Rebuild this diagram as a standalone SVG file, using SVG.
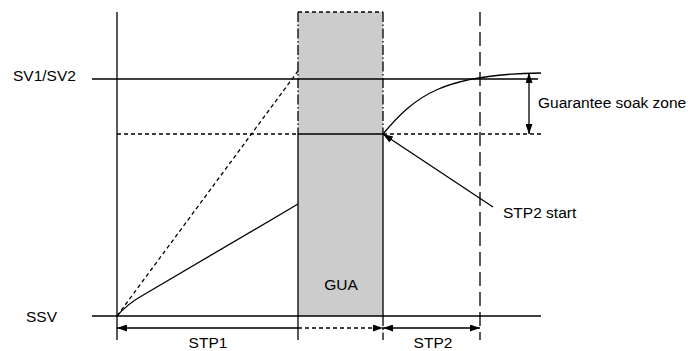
<svg xmlns="http://www.w3.org/2000/svg" width="691" height="351" viewBox="0 0 691 351">
<defs>
<marker id="ah" viewBox="0 0 10 7" refX="10" refY="3.5" markerWidth="10" markerHeight="7" markerUnits="userSpaceOnUse" orient="auto-start-reverse">
<path d="M0,0 L10,3.5 L0,7 z" fill="#000"/>
</marker>
</defs>
<style>
.ln{stroke:#000;stroke-width:1.3;fill:none}
.sd{stroke-dasharray:4 3}
.ld{stroke-dasharray:14 6}
.dd{stroke-dasharray:10 2.5 1.5 2.5}
.t{font-family:"Liberation Sans",Arial,sans-serif;font-size:15.5px;fill:#000}
</style>
<rect width="691" height="351" fill="#fff"/>
<g id="gua-zone">
<rect x="298" y="12" width="85" height="304" fill="#cccccc"/>
<line class="ln sd" x1="298" y1="12" x2="383" y2="12"/>
<line class="ln dd" x1="298" y1="12" x2="298" y2="134"/>
<line class="ln" x1="298" y1="134" x2="298" y2="340"/>
<line class="ln dd" x1="383" y1="12" x2="383" y2="134"/>
<line class="ln" x1="383" y1="134" x2="383" y2="316"/>
<line class="ln dd" x1="383" y1="316" x2="383" y2="340"/>
<line class="ln" x1="298" y1="134" x2="383" y2="134"/>
<text class="t" x="341" y="290" text-anchor="middle">GUA</text>
</g>
<g id="axes">
<line class="ln" x1="117" y1="12" x2="117" y2="340"/>
<line class="ln" x1="92" y1="79" x2="538" y2="79"/>
<line class="ln" x1="92" y1="316" x2="541" y2="316"/>
<line class="ln sd" x1="117" y1="134" x2="298" y2="134"/>
<line class="ln sd" x1="383" y1="134" x2="541" y2="134"/>
<line class="ln ld" x1="480" y1="12" x2="480" y2="340"/>
</g>
<g id="labels">
<text class="t" x="13" y="81">SV1/SV2</text>
<text class="t" x="26" y="322">SSV</text>
<text class="t" x="538" y="108">Guarantee soak zone</text>
<text class="t" x="503" y="218">STP2 start</text>
<text class="t" x="208" y="348" text-anchor="middle">STP1</text>
<text class="t" x="433" y="348" text-anchor="middle">STP2</text>
</g>
<g id="connectors">
<line class="ln sd" x1="117" y1="316" x2="298" y2="71"/>
<path class="ln" d="M117,316 Q127,304 145,294 L298,204"/>
<path class="ln" d="M383,134 C415,95 445,74 541,73"/>
<line class="ln" x1="529" y1="73" x2="529" y2="134" marker-start="url(#ah)" marker-end="url(#ah)"/>
<line class="ln" x1="493" y1="207" x2="383" y2="134" marker-end="url(#ah)"/>
<line class="ln" x1="298" y1="328" x2="117" y2="328" marker-end="url(#ah)"/>
<line class="ln sd" x1="298" y1="328" x2="383" y2="328" marker-end="url(#ah)"/>
<line class="ln" x1="383" y1="328" x2="480" y2="328" marker-start="url(#ah)" marker-end="url(#ah)"/>
</g>
</svg>
